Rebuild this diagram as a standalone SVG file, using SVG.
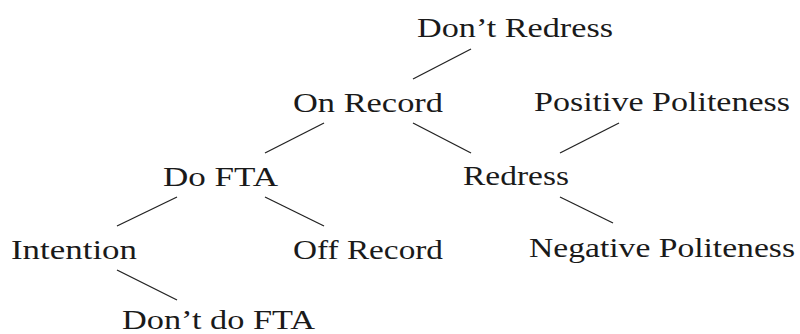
<svg xmlns="http://www.w3.org/2000/svg" width="800" height="334" viewBox="0 0 800 334">
<style>
.t{font-family:"Liberation Serif","Times New Roman",serif;font-size:28px;fill:#1a1a1a}
.e line{stroke:#222;stroke-width:1.3}
</style>
<rect width="800" height="334" fill="#fff"/>
<g class="e" id="edges">
<line x1="413" y1="79" x2="471" y2="49"/>
<line x1="265" y1="153" x2="324" y2="123"/>
<line x1="413" y1="123" x2="471" y2="153"/>
<line x1="560" y1="153" x2="619" y2="123"/>
<line x1="560" y1="197" x2="613" y2="223"/>
<line x1="117" y1="226" x2="177" y2="197"/>
<line x1="265" y1="197" x2="324" y2="226"/>
<line x1="117" y1="270" x2="177" y2="300"/>
</g>
<g id="dont-redress"><text class="t" x="417" y="37" textLength="196" lengthAdjust="spacingAndGlyphs">Don’t Redress</text></g>
<g id="on-record"><text class="t" x="293" y="112" textLength="150" lengthAdjust="spacingAndGlyphs">On Record</text></g>
<g id="positive-politeness"><text class="t" x="534" y="111" textLength="256" lengthAdjust="spacingAndGlyphs">Positive Politeness</text></g>
<g id="do-fta"><text class="t" x="163" y="186" textLength="115" lengthAdjust="spacingAndGlyphs">Do FTA</text></g>
<g id="redress"><text class="t" x="463" y="185" textLength="106" lengthAdjust="spacingAndGlyphs">Redress</text></g>
<g id="intention"><text class="t" x="11" y="259" textLength="126" lengthAdjust="spacingAndGlyphs">Intention</text></g>
<g id="off-record"><text class="t" x="293" y="259" textLength="150" lengthAdjust="spacingAndGlyphs">Off Record</text></g>
<g id="negative-politeness"><text class="t" x="529" y="257" textLength="266" lengthAdjust="spacingAndGlyphs">Negative Politeness</text></g>
<g id="dont-do-fta"><text class="t" x="122" y="329" textLength="193" lengthAdjust="spacingAndGlyphs">Don’t do FTA</text></g>
</svg>
